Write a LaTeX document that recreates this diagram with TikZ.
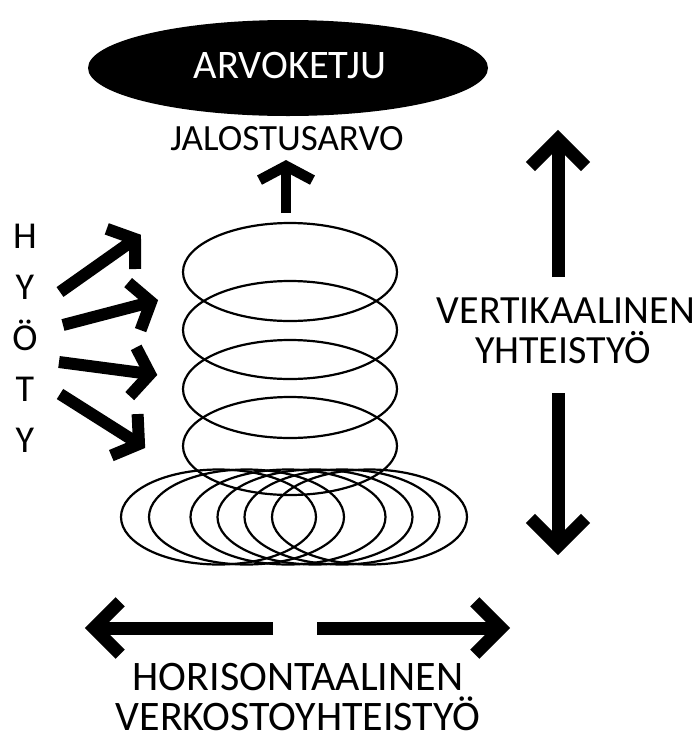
\documentclass[tikz,border=0pt]{standalone}
\usepackage{fontspec}
\setmainfont{Carlito}
\usetikzlibrary{calc,shapes.geometric}
\tikzset{
  ring/.style={draw=black, line width=2.2pt},
  lbl/.style={anchor=base, inner sep=0pt},
  shaftline/.style={line width=#1, line cap=butt},
  headline/.style={line width=#1, line cap=butt, line join=miter},
}
% #1 tail, #2 tip, #3 arm length, #4 half angle, #5 line width
\newcommand\chevarrow[5]{%
  \draw[shaftline=#5] (#1) -- (#2);
  \draw[headline=#5] ($(#2)!#3!#4:(#1)$) -- (#2) -- ($(#2)!#3!-#4:(#1)$);
}
\begin{document}
\begin{tikzpicture}[x=1pt,y=-1pt]
\useasboundingbox (0,0) rectangle (697,740);
% value chain ellipse
\node[ellipse, fill=black, minimum width=400pt, minimum height=96pt, inner sep=0pt] (arvo) at (288,68) {};
\node[lbl, text=white, font=\fontsize{40.5}{48}\selectfont] (arvotxt) at (290,78) {ARVOKETJU};
\node[lbl, font=\fontsize{37}{44}\selectfont] (jalo) at (287,150) {JALOSTUSARVO};
% stacked rings
\foreach \cy in {272,330,389,446} \draw[ring] (290,\cy) ellipse [x radius=107pt, y radius=49pt];
% bottom rings
\foreach \cx in {218.5,246.5,288,315,342,369.5} \draw[ring] (\cx,517) ellipse [x radius=97.5pt, y radius=47.5pt];
% HYOTY
\foreach \ch [count=\i from 0] in {H,Y,Ö,T,Y}
  \node[lbl, font=\fontsize{38}{45}\selectfont] (hy\i) at (25,248+51*\i) {\ch};
% coordinates for arrows
\coordinate (a1t) at (60,292);  \coordinate (a1h) at (135,239);
\coordinate (a2t) at (63,325);  \coordinate (a2h) at (151,302);
\coordinate (a3t) at (59,362);  \coordinate (a3h) at (150,374);
\coordinate (a4t) at (60,394);  \coordinate (a4h) at (139,444);
\coordinate (vut) at (558,277); \coordinate (vuh) at (558,139);
\coordinate (vdt) at (558,393); \coordinate (vdh) at (558,546);
\coordinate (hlt) at (273,628); \coordinate (hlh) at (94,628);
\coordinate (hrt) at (317,628); \coordinate (hrh) at (501,628);
\coordinate (st) at (286,213);  \coordinate (sh) at (286,166);
\chevarrow{a1t}{a1h}{30pt}{55}{12pt}
\chevarrow{a2t}{a2h}{30pt}{55}{12pt}
\chevarrow{a3t}{a3h}{30pt}{55}{12pt}
\chevarrow{a4t}{a4h}{30pt}{55}{12pt}
\chevarrow{vut}{vuh}{39pt}{45}{13pt}
\chevarrow{vdt}{vdh}{39pt}{45}{13pt}
\chevarrow{hlt}{hlh}{37pt}{45}{13pt}
\chevarrow{hrt}{hrh}{37pt}{45}{13pt}
\chevarrow{st}{sh}{30pt}{62}{10.5pt}
% labels
\node[lbl, font=\fontsize{40}{48}\selectfont] (vert1) at (566,323) {VERTIKAALINEN};
\node[lbl, font=\fontsize{40}{48}\selectfont] (vert2) at (563,363) {YHTEISTYÖ};
\node[lbl, font=\fontsize{42}{50}\selectfont] (hor1) at (298,690) {HORISONTAALINEN};
\node[lbl, font=\fontsize{42}{50}\selectfont] (hor2) at (298,730) {VERKOSTOYHTEISTYÖ};
\end{tikzpicture}
\end{document}
